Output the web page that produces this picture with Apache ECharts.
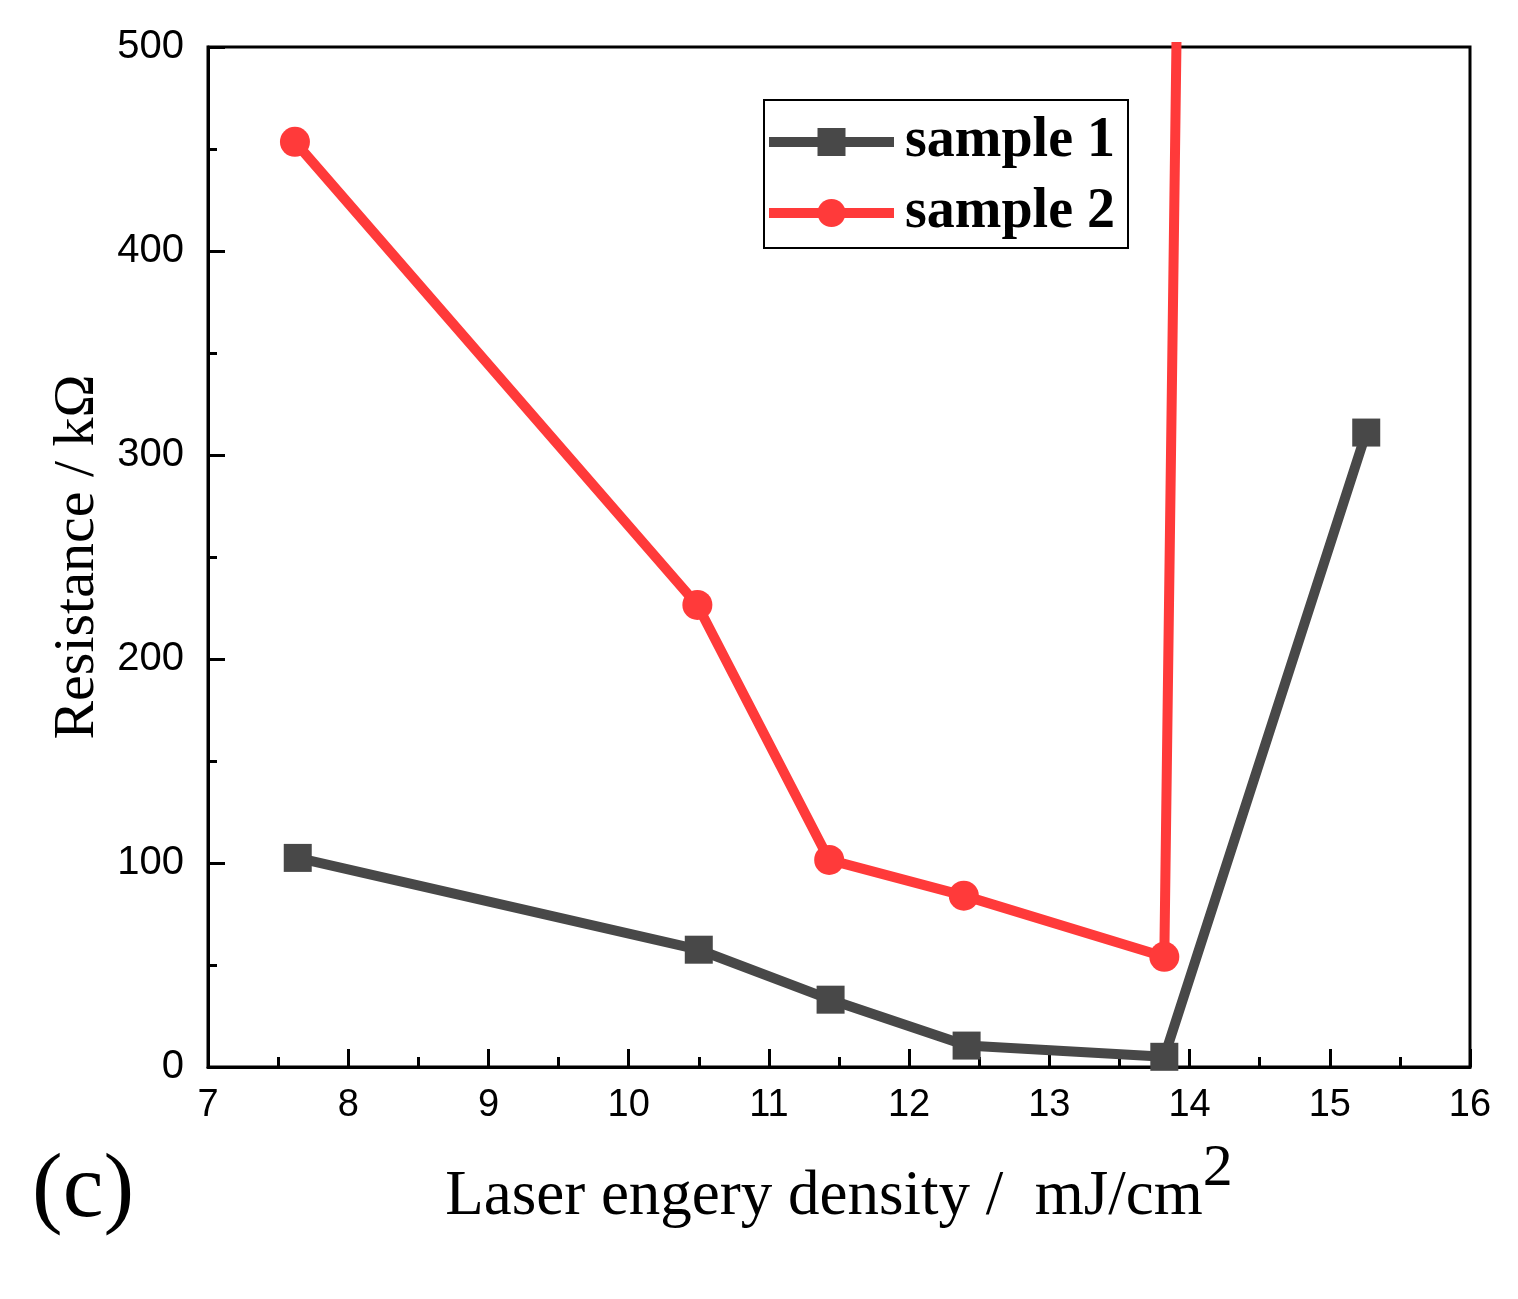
<!DOCTYPE html>
<html>
<head>
<meta charset="utf-8">
<script src="https://cdn.jsdelivr.net/npm/echarts@6/dist/echarts.min.js"></script>
<style>
html,body{margin:0;padding:0;background:#fff;}
#chart{width:1518px;height:1299px;}
</style>
</head>
<body>
<div id="chart"></div>
<script>
const seriesNames = ['sample 1', 'sample 2'];
const sample1 = [[7.64, 102.5], [10.50, 57.5], [11.44, 33], [12.41, 10.5], [13.82, 5], [15.26, 311]];
const sample2 = [[7.62, 453.5], [10.49, 226.5], [11.43, 101.5], [12.39, 84], [13.82, 54], [15.26, 7500]];
const xTitle = 'Laser engery density /  mJ/cm';
const xTitleSup = '2';
const yTitle = 'Resistance / kΩ';
const panelLabel = '(c)';

const sansFont = '"Liberation Sans", Arial, sans-serif';
const serifFont = '"Liberation Serif", "Times New Roman", serif';

const chart = echarts.init(document.getElementById('chart'));
chart.setOption({
  animation: false,
  backgroundColor: '#fff',
  grid: {
    left: 208, top: 47, right: 48, bottom: 232,
    show: true, borderColor: '#000', borderWidth: 3, backgroundColor: 'transparent'
  },
  legend: {
    orient: 'vertical',
    left: 764, top: 100,
    padding: [14, 13, 7, 0],
    itemWidth: 125, itemHeight: 35, itemGap: 15,
    borderColor: '#000', borderWidth: 2,
    backgroundColor: '#fff',
    lineStyle: { width: 10 },
    textStyle: { fontFamily: serifFont, fontWeight: 'bold', fontSize: 56, color: '#000', padding: [0, 0, 0, 6] },
    data: seriesNames
  },
  xAxis: {
    type: 'value', min: 7, max: 16, interval: 1,
    name: '{a|' + xTitle + '}{s|' + xTitleSup + '}',
    nameLocation: 'middle', nameGap: 99,
    nameTextStyle: {
      rich: {
        a: { fontFamily: serifFont, fontSize: 63, color: '#000', lineHeight: 63, verticalAlign: 'bottom' },
        s: { fontFamily: serifFont, fontSize: 60, color: '#000', lineHeight: 60, verticalAlign: 'bottom', padding: [0, 0, 30, 0] }
      }
    },
    axisLine: { show: true, onZero: false, lineStyle: { color: '#000', width: 3 } },
    axisTick: { show: true, inside: true, length: 18, lineStyle: { color: '#000', width: 3 } },
    minorTick: { show: true, splitNumber: 2, length: 10, lineStyle: { color: '#000', width: 3 } },
    axisLabel: { fontFamily: sansFont, fontSize: 38, color: '#000', margin: 20 },
    splitLine: { show: false }
  },
  yAxis: {
    type: 'value', min: 0, max: 500, interval: 100,
    name: yTitle, nameLocation: 'middle', nameGap: 100, nameRotate: 90,
    nameTextStyle: { fontFamily: serifFont, fontSize: 58, color: '#000' },
    axisLine: { show: true, onZero: false, lineStyle: { color: '#000', width: 3 } },
    axisTick: { show: true, inside: true, length: 17, lineStyle: { color: '#000', width: 3 } },
    minorTick: { show: true, splitNumber: 2, length: 9, lineStyle: { color: '#000', width: 3 } },
    axisLabel: { fontFamily: sansFont, fontSize: 40, color: '#000', margin: 24 },
    splitLine: { show: false }
  },
  graphic: [{
    type: 'text', left: 32, top: 1146,
    style: { text: panelLabel, fontFamily: serifFont, fontSize: 92, fill: '#000' }
  }],
  series: [
    {
      name: seriesNames[0], type: 'line', data: sample1, clip: true,
      symbol: 'rect', symbolSize: 28,
      lineStyle: { color: '#484848', width: 10 },
      itemStyle: { color: '#484848' }
    },
    {
      name: seriesNames[1], type: 'line', data: sample2, clip: true,
      symbol: 'circle', symbolSize: 30,
      lineStyle: { color: '#ff3a3a', width: 10 },
      itemStyle: { color: '#ff3a3a' }
    }
  ]
});
</script>
</body>
</html>
